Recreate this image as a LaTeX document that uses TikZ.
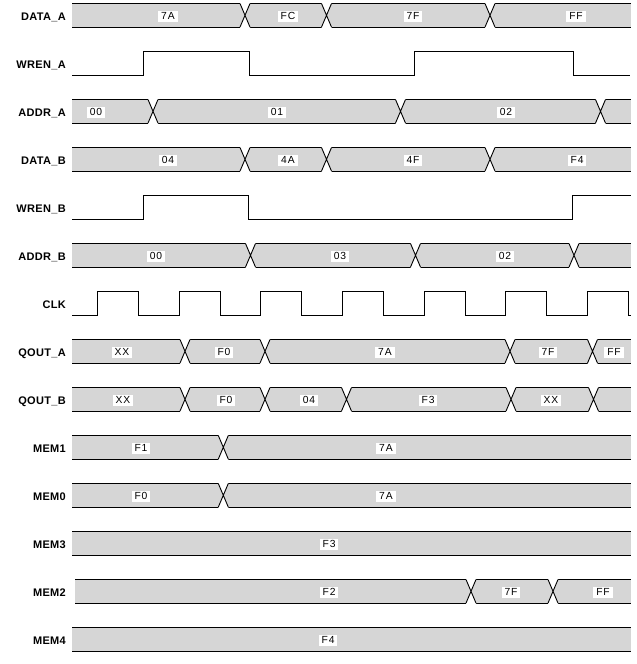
\documentclass[tikz,border=0pt]{standalone}
\usepackage{fontspec}
\setmainfont{Liberation Sans}
\newfontfamily\sigfont[LetterSpace=3]{Liberation Sans}
\newfontfamily\valfont[LetterSpace=9]{Liberation Sans}
\tikzset{
  wire/.style={line width=0.9pt},
  busfill/.style={fill=black!16},
  sig/.style={font=\sigfont\bfseries\fontsize{11}{12}\selectfont, anchor=base east, inner sep=0pt},
  val/.style={font=\valfont\fontsize{10.3}{11}\selectfont, fill=white, inner xsep=3pt, inner ysep=2pt, anchor=base},
}
\newcommand\hh{11.8}
\newcommand\dd{5}
\newcommand\busrow[4]{%
  \fill[busfill] (#2,#1-\hh) rectangle (#3,#1+\hh);
  \draw[wire] (#2,#1-\hh) -- (#3,#1-\hh) (#2,#1+\hh) -- (#3,#1+\hh);
  \foreach \c in {#4} {
    \fill[white] (\c-\dd,#1-\hh-1.5) -- (\c-\dd,#1-\hh) -- (\c,#1) -- (\c+\dd,#1-\hh) -- (\c+\dd,#1-\hh-1.5) -- cycle;
    \fill[white] (\c-\dd,#1+\hh+1.5) -- (\c-\dd,#1+\hh) -- (\c,#1) -- (\c+\dd,#1+\hh) -- (\c+\dd,#1+\hh+1.5) -- cycle;
    \draw[wire] (\c-\dd,#1-\hh) -- (\c+\dd,#1+\hh) (\c-\dd,#1+\hh) -- (\c+\dd,#1-\hh);
  }
}
\newcommand\busplain[3]{%
  \fill[busfill] (#2,#1-\hh) rectangle (#3,#1+\hh);
  \draw[wire] (#2,#1-\hh) -- (#3,#1-\hh) (#2,#1+\hh) -- (#3,#1+\hh);
}
\begin{document}
\begin{tikzpicture}[x=1pt,y=-1pt]
\useasboundingbox (0,0) rectangle (637,664);
\fill[white] (0,0) rectangle (637,664);

% signal names
\node[sig] (nDATAA) at (66,20.6) {DATA\_A};
\node[sig] (nWRENA) at (66,68.6) {WREN\_A};
\node[sig] (nADDRA) at (66,116.6) {ADDR\_A};
\node[sig] (nDATAB) at (66,164.6) {DATA\_B};
\node[sig] (nWRENB) at (66,212.6) {WREN\_B};
\node[sig] (nADDRB) at (66,260.6) {ADDR\_B};
\node[sig] (nCLK) at (66,308.6) {CLK};
\node[sig] (nQOUTA) at (66,356.6) {QOUT\_A};
\node[sig] (nQOUTB) at (66,404.6) {QOUT\_B};
\node[sig] (nMEM1) at (66,452.6) {MEM1};
\node[sig] (nMEM0) at (66,500.6) {MEM0};
\node[sig] (nMEM3) at (66,548.6) {MEM3};
\node[sig] (nMEM2) at (66,596.6) {MEM2};
\node[sig] (nMEM4) at (66,644.6) {MEM4};

% DATA_A
\busrow{15.3}{72}{631}{245,326.5,490}
\node[val] (da1) at (168,19.8) {7A};
\node[val] (da2) at (288,19.8) {FC};
\node[val] (da3) at (413,19.8) {7F};
\node[val] (da4) at (576,19.8) {FF};

% WREN_A
\draw[wire] (72,75.1) -| (143.3,51.5) -| (249.3,75.1) -| (414.7,51.5) -| (573.7,75.1) -- (630,75.1);

% ADDR_A
\busrow{111.3}{72}{631}{153,400.5,600.5}
\node[val] (aa1) at (96,115.8) {00};
\node[val] (aa2) at (277,115.8) {01};
\node[val] (aa3) at (506,115.8) {02};

% DATA_B
\busrow{159.3}{72}{631}{245,326.5,490}
\node[val] (db1) at (168,163.8) {04};
\node[val] (db2) at (288,163.8) {4A};
\node[val] (db3) at (413,163.8) {4F};
\node[val] (db4) at (577,163.8) {F4};

% WREN_B
\draw[wire] (72,219.1) -| (143.3,195.5) -| (248.3,219.1) -| (572.3,195.5) -- (631,195.5);

% ADDR_B
\busrow{255.3}{72}{631}{250.5,415.5,574}
\node[val] (ab1) at (156,259.8) {00};
\node[val] (ab2) at (340,259.8) {03};
\node[val] (ab3) at (505,259.8) {02};

% CLK
\draw[wire] (72,315.1) -| (97.5,291.5) -| (138.5,315.1) -| (179.2,291.5) -| (220.2,315.1)
  -| (260.8,291.5) -| (301.8,315.1) -| (342.5,291.5) -| (383.5,315.1) -| (424.2,291.5)
  -| (465.2,315.1) -| (505.8,291.5) -| (546.8,315.1) -| (587.5,291.5) -| (628.5,315.1) -- (631,315.1);

% QOUT_A
\busrow{351.3}{72}{631}{185,265,510,592.5}
\node[val] (qa1) at (122,355.8) {XX};
\node[val] (qa2) at (224,355.8) {F0};
\node[val] (qa3) at (385,355.8) {7A};
\node[val] (qa4) at (548,355.8) {7F};
\node[val] (qa5) at (614,355.8) {FF};

% QOUT_B
\busrow{399.3}{72}{631}{185,265,346.5,511,593.5}
\node[val] (qb1) at (123,403.8) {XX};
\node[val] (qb2) at (226,403.8) {F0};
\node[val] (qb3) at (309,403.8) {04};
\node[val] (qb4) at (428,403.8) {F3};
\node[val] (qb5) at (551,403.8) {XX};

% MEM1
\busrow{447.3}{72}{631}{223.3}
\node[val] (m11) at (141,451.8) {F1};
\node[val] (m12) at (386,451.8) {7A};

% MEM0
\busrow{495.3}{72}{631}{223.3}
\node[val] (m01) at (141,499.8) {F0};
\node[val] (m02) at (386,499.8) {7A};

% MEM3
\busplain{543.3}{72}{631}
\node[val] (m31) at (329,547.8) {F3};

% MEM2
\busrow{591.3}{75}{631}{471,553}
\node[val] (m21) at (329,595.8) {F2};
\node[val] (m22) at (511,595.8) {7F};
\node[val] (m23) at (603,595.8) {FF};

% MEM4
\busplain{639.3}{72}{631}
\node[val] (m41) at (328,643.8) {F4};
\end{tikzpicture}
\end{document}
